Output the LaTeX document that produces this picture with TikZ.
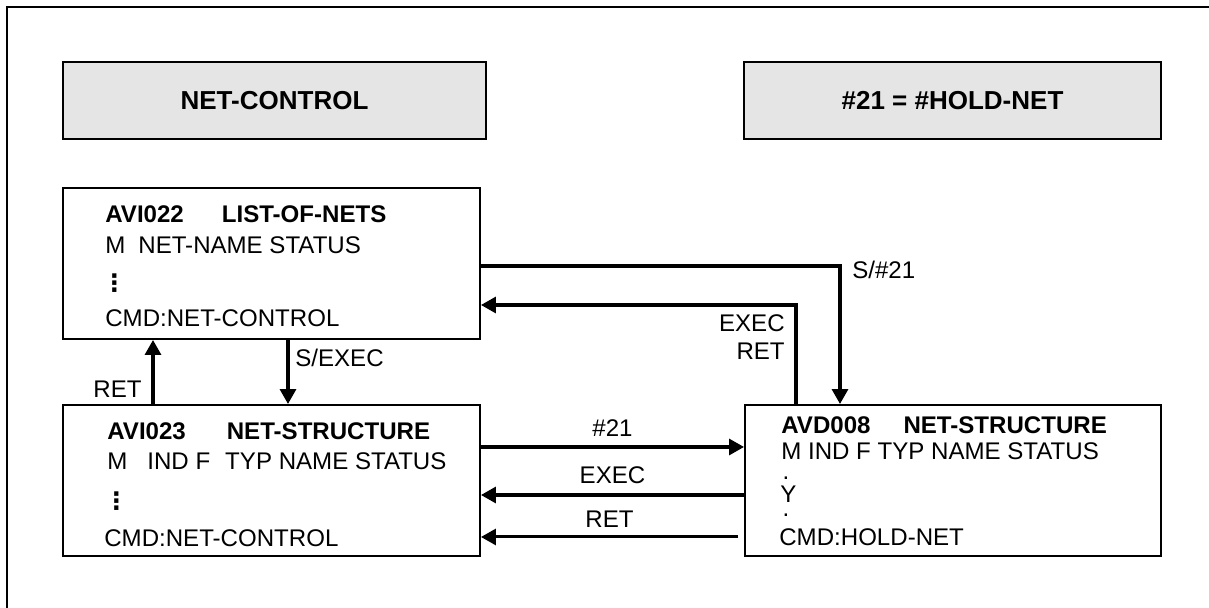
\documentclass[tikz,border=0pt]{standalone}
\usepackage{fontspec}
\setmainfont{Liberation Sans}
\newfontfamily\symfont{DejaVu Sans}
\usetikzlibrary{arrows.meta,positioning,calc}
\newcommand{\coldots}{{\symfont\bfseries ⋮}}
\tikzset{titlebox/.style={
            draw,
            fill=gray!20,
            line width=1.1pt,
            minimum height=1.54cm,
            font=\bfseries\fontsize{14.8}{17}\selectfont
        },
        screen/.style={
            draw,
            line width=1.1pt,
            minimum width=8.34cm,
            minimum height=3.02cm,
            inner sep=0pt
        },
        txt/.style={
            anchor=base west,
            inner sep=0pt,
            font=\fontsize{13.7}{16}\selectfont
        },
        hdr/.style={
            txt,
            font=\bfseries\fontsize{13.7}{16}\selectfont
        },
        lbl/.style={
            font=\fontsize{13.7}{16}\selectfont
        },
        link/.style={
            -{Triangle[length=0.3cm,width=0.32cm]},
            line width=1.8pt
        }
    }

\begin{document}
\begin{tikzpicture}
        \useasboundingbox (0,0) rectangle (24.18,12.16);
        \draw[line width=0.6pt] (0.14,0) -- (0.14,12.02) -- (24.18,12.02);

        \node[titlebox, minimum width=8.46cm] at (5.49,10.15) (netcontrol) {NET-CONTROL};
        \node[titlebox, minimum width=8.34cm] at (19.05,10.15) (holdnet) {\#21 = \#HOLD-NET};

        \node[screen] at (5.43,6.89) (avi022) {};
        \node[screen] at (5.43,2.55) (avi023) {};
        \node[screen, minimum width=8.32cm] at (19.06,2.55) (avd008) {};

        % screen contents
        \node[hdr] at (2.10,7.70) (avi022h) {AVI022\hspace{0.76cm}LIST-OF-NETS};
        \node[txt] at (2.10,7.08) (avi022c) {M\hspace{0.26cm}NET-NAME STATUS};
        \node[hdr] at (2.04,6.32) (avi022d) {\coldots};
        \node[txt] at (2.10,5.62) (avi022m) {CMD:NET-CONTROL};

        \node[hdr] at (2.14,3.36) (avi023h) {AVI023\hspace{0.82cm}NET-STRUCTURE};
        \node[txt] at (2.14,2.76) (avi023c) {M\hspace{0.40cm}IND F\hspace{0.30cm}TYP NAME STATUS};
        \node[hdr] at (2.08,1.96) (avi023d) {\coldots};
        \node[txt] at (2.08,1.22) (avi023m) {CMD:NET-CONTROL};

        \node[hdr] at (15.62,3.48) (avd008h) {AVD008\hspace{0.66cm}NET-STRUCTURE};
        \node[txt] at (15.62,2.96) (avd008c) {M IND F TYP NAME STATUS};
        \node[txt, anchor=base] at (15.72,2.56) (avd008a) {.};
        \node[txt] at (15.60,2.10) (avd008y) {Y};
        \node[txt, anchor=base] at (15.72,1.82) (avd008b) {.};
        \node[txt] at (15.58,1.24) (avd008m) {CMD:HOLD-NET};

        % upper connections
        \draw[link] ([yshift=-0.05cm]avi022.east) -| ([xshift=-2.26cm]avd008.north);
        \node[lbl, anchor=base west, inner sep=0pt] at (17.04,6.58) (s21) {S/\#21};
        \draw[link] ([xshift=-3.14cm]avd008.north) |- ([yshift=-0.83cm]avi022.east);
        \node[lbl, anchor=base east, inner sep=0pt] at (15.70,5.52) (execup) {EXEC};
        \node[lbl, anchor=base east, inner sep=0pt] at (15.70,4.96) (retup) {RET};

        % left connections
        \draw[link] ([xshift=-2.37cm]avi023.north) -- ([xshift=-2.37cm]avi022.south);
        \node[lbl, anchor=base east, inner sep=0pt] at (2.84,4.20) (retleft) {RET};
        \draw[link] ([xshift=0.33cm]avi022.south) -- ([xshift=0.33cm]avi023.north);
        \node[lbl, anchor=base west, inner sep=0pt] at (5.90,4.82) (sexec) {S/EXEC};

        % lower connections
        \draw[link] ([yshift=0.67cm]avi023.east) -- node[lbl, above=2pt] (h21) {\#21} ([yshift=0.67cm]avd008.west);
        \draw[link] ([yshift=-0.29cm]avd008.west) -- node[lbl, above=2pt] (execlow) {EXEC} ([yshift=-0.29cm]avi023.east);
        \draw[link, line width=1.7pt] ([xshift=-0.12cm,yshift=-1.13cm]avd008.west) -- node[lbl, above=1pt] (retlow) {RET} ([yshift=-1.13cm]avi023.east);

    \end{tikzpicture}
\end{document}
